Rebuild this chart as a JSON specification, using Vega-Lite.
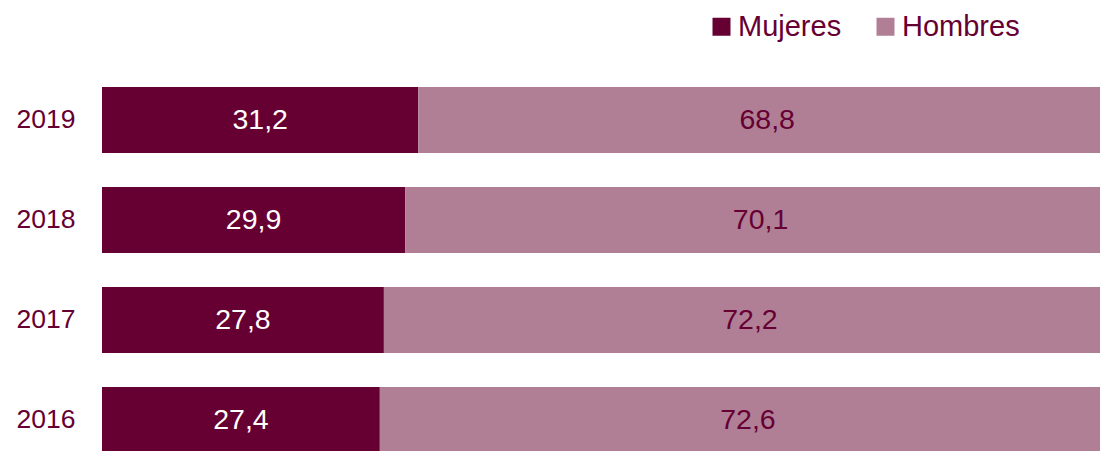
{
  "$schema": "https://vega.github.io/schema/vega-lite/v6.json",
  "width": 1014,
  "height": 400,
  "autosize": {"type": "none"},
  "padding": {"left": 102, "top": 70, "right": 0, "bottom": 0},
  "background": "white",
  "config": {
    "view": {"stroke": null},
    "font": "Liberation Sans",
    "locale": {"number": {"decimal": ",", "thousands": ".", "grouping": [3], "currency": ["", " €"]}}
  },
  "data": {
    "values": [
      {"anio": "2019", "sexo": "Mujeres", "valor": 31.2},
      {"anio": "2019", "sexo": "Hombres", "valor": 68.8},
      {"anio": "2018", "sexo": "Mujeres", "valor": 29.9},
      {"anio": "2018", "sexo": "Hombres", "valor": 70.1},
      {"anio": "2017", "sexo": "Mujeres", "valor": 27.8},
      {"anio": "2017", "sexo": "Hombres", "valor": 72.2},
      {"anio": "2016", "sexo": "Mujeres", "valor": 27.4},
      {"anio": "2016", "sexo": "Hombres", "valor": 72.6}
    ]
  },
  "encoding": {
    "y": {
      "field": "anio", "type": "nominal", "sort": "descending", "title": null,
      "scale": {"paddingInner": 0.34, "paddingOuter": 0.17},
      "axis": {"domain": false, "ticks": false, "labelFontSize": 26.5, "labelColor": "#660033", "labelPadding": 27}
    }
  },
  "layer": [
    {
      "mark": {"type": "bar"},
      "encoding": {
        "x": {"field": "valor", "type": "quantitative", "stack": "zero", "scale": {"domain": [0, 100], "nice": false}, "axis": null},
        "color": {
          "field": "sexo", "type": "nominal", "title": null,
          "scale": {"domain": ["Mujeres", "Hombres"], "range": ["#660033", "#b07f96"]},
          "legend": {"orient": "none", "legendX": 605, "legendY": -58, "direction": "horizontal", "symbolType": "square", "symbolSize": 324, "symbolStrokeWidth": 0, "symbolOpacity": 1, "labelFontSize": 29, "labelColor": "#660033", "labelOffset": 2, "columnPadding": 29}
        },
        "order": {"field": "sexo", "sort": "descending"}
      }
    },
    {
      "mark": {"type": "text", "fontSize": 28.5, "align": "center", "baseline": "middle"},
      "encoding": {
        "x": {"field": "valor", "type": "quantitative", "stack": "zero", "bandPosition": 0.5},
        "text": {"field": "valor", "type": "quantitative", "format": ".1f"},
        "color": {"field": "sexo", "type": "nominal", "scale": {"domain": ["Mujeres", "Hombres"], "range": ["white", "#660033"]}, "legend": null},
        "order": {"field": "sexo", "sort": "descending"}
      }
    }
  ],
  "resolve": {"scale": {"color": "independent"}}
}
